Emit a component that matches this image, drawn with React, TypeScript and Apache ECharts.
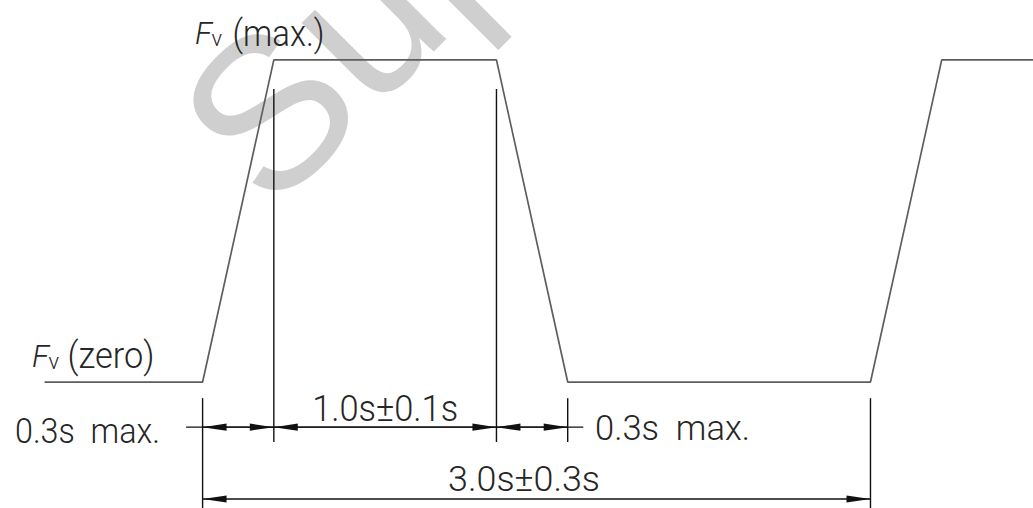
import React, { useEffect, useRef } from "react";
import * as echarts from "echarts";

// Waveform: time in seconds, force level (0 = Fv zero, 1 = Fv max)
const waveTime = [-0.71, 0, 0.32, 1.32, 1.64, 3.0, 3.32, 3.73];
const waveLevel = [0, 0, 1, 1, 0, 0, 1, 1];

// Extension (witness) lines: time, top level, bottom level
const extTime = [0, 0.32, 1.32, 1.64, 3.0];
const extTop = [-0.05, 0.91, 0.91, -0.05, -0.05];
const extBottom = [-0.391, -0.186, -0.186, -0.186, -0.391];

// Dimension lines: start time, end time, level
const dimStart = [0, 0.32, 1.32, 0];
const dimEnd = [0.32, 1.32, 1.64, 3.0];
const dimLevel = [-0.14, -0.14, -0.14, -0.363];

// Leader line through the first dimension row
const leaderTime = [-0.074, 1.71];
const leaderLevel = [-0.14, -0.14];

// Texts
const dimLabels = ["0.3s  max.", "1.0s±0.1s", "0.3s  max.", "3.0s±0.3s"];
const levelLabels = ["(max.)", "(zero)"];
const levelSymbol = "F";
const levelSub = "v";
const watermark = "Sup";

const X_MIN = -0.91;
const X_MAX = 3.73;
const Y_MIN = -0.391;
const Y_MAX = 1.186;

const FONT = "Roboto";
const TEXT_COLOR = "#262626";

let measureCtx: CanvasRenderingContext2D | null = null;
function measure(text: string, font: string): number {
  if (!measureCtx) measureCtx = document.createElement("canvas").getContext("2d");
  if (!measureCtx) return 1;
  measureCtx.font = font;
  return measureCtx.measureText(text).width || 1;
}

// layout of dimension labels relative to their dimension line
const DIM_LABEL_LAYOUT = [
  { anchor: "start", dx: -42.6, dy: 3, align: "right", width: 145 },
  { anchor: "mid", dx: 0, dy: -18.5, align: "center", width: 146 },
  { anchor: "end", dx: 27.3, dy: 1, align: "left", width: 155 },
  { anchor: "mid", dx: -12.5, dy: -20.5, align: "center", width: 152 },
];

// layout of level labels relative to waveform corners
const LEVEL_LABEL_LAYOUT = [
  { point: 2, dx: -78.8, dy: -26.5, parenDx: 37.5, width: 92 },
  { point: 0, dx: -12.5, dy: -26, parenDx: 35.5, width: 87 },
];

export default function App() {
  const ref = useRef<HTMLDivElement>(null);

  useEffect(() => {
    if (!ref.current) return;
    const chart = echarts.init(ref.current, null, { renderer: "svg" });

    const mainSize = 36;
    const mainFont = `300 ${mainSize}px ${FONT}`;
    const parenSize = 37;
    const parenFont = `300 ${parenSize}px ${FONT}`;

    const dimLabelData = DIM_LABEL_LAYOUT.map((l, i) => {
      const t =
        l.anchor === "start"
          ? dimStart[i]
          : l.anchor === "end"
          ? dimEnd[i]
          : (dimStart[i] + dimEnd[i]) / 2;
      return [t, dimLevel[i], i];
    });

    const levelLabelData = LEVEL_LABEL_LAYOUT.map((l, i) => [
      waveTime[l.point],
      waveLevel[l.point],
      i,
    ]);

    const stroke = "#111";

    chart.setOption({
      animation: false,
      backgroundColor: "#fff",
      grid: { left: 0, right: 0, top: 0, bottom: 0 },
      xAxis: { type: "value", min: X_MIN, max: X_MAX, show: false },
      yAxis: { type: "value", min: Y_MIN, max: Y_MAX, show: false },
      graphic: [
        {
          type: "text",
          x: 294,
          y: 238,
          rotation: (45 * Math.PI) / 180,
          z: 0,
          silent: true,
          style: {
            text: watermark,
            fontSize: 215,
            fontFamily: "Liberation Sans",
            fontWeight: "normal",
            fill: "#cfcfcf",
            align: "left",
            verticalAlign: "bottom",
          },
        },
      ],
      series: [
        {
          type: "line",
          z: 5,
          silent: true,
          showSymbol: false,
          symbol: "none",
          data: waveTime.map((t, i) => [t, waveLevel[i]]),
          lineStyle: { color: "#5e5e5e", width: 1.7 },
        },
        {
          type: "custom",
          z: 5,
          silent: true,
          data: extTime.map((t, i) => [t, extTop[i], extBottom[i]]),
          encode: { x: 0, y: [1, 2] },
          renderItem: (params: any, api: any) => {
            const p1 = api.coord([api.value(0), api.value(1)]);
            const p2 = api.coord([api.value(0), api.value(2)]);
            return {
              type: "line",
              shape: { x1: p1[0], y1: p1[1], x2: p2[0], y2: p2[1] },
              style: { stroke, lineWidth: 1.4 },
            };
          },
        },
        {
          type: "custom",
          z: 5,
          silent: true,
          data: [[leaderTime[0], leaderTime[1], leaderLevel[0]]],
          encode: { x: [0, 1], y: 2 },
          renderItem: (params: any, api: any) => {
            const a = api.coord([api.value(0), api.value(2)]);
            const b = api.coord([api.value(1), api.value(2)]);
            return {
              type: "line",
              shape: { x1: a[0], y1: a[1], x2: b[0], y2: b[1] },
              style: { stroke, lineWidth: 1.4 },
            };
          },
        },
        {
          type: "custom",
          z: 6,
          silent: true,
          data: dimStart.map((s, i) => [s, dimEnd[i], dimLevel[i]]),
          encode: { x: [0, 1], y: 2 },
          renderItem: (params: any, api: any) => {
            const a = api.coord([api.value(0), api.value(2)]);
            const b = api.coord([api.value(1), api.value(2)]);
            const L = 24;
            const H = 3.6;
            return {
              type: "group",
              children: [
                {
                  type: "line",
                  shape: { x1: a[0], y1: a[1], x2: b[0], y2: b[1] },
                  style: { stroke, lineWidth: 1.4 },
                },
                {
                  type: "polygon",
                  shape: {
                    points: [
                      [a[0], a[1]],
                      [a[0] + L, a[1] - H],
                      [a[0] + L, a[1] + H],
                    ],
                  },
                  style: { fill: stroke },
                },
                {
                  type: "polygon",
                  shape: {
                    points: [
                      [b[0], b[1]],
                      [b[0] - L, b[1] - H],
                      [b[0] - L, b[1] + H],
                    ],
                  },
                  style: { fill: stroke },
                },
              ],
            };
          },
        },
        {
          type: "custom",
          z: 7,
          silent: true,
          data: dimLabelData,
          encode: { x: 0, y: 1 },
          renderItem: (params: any, api: any) => {
            const i = api.value(2);
            const l = DIM_LABEL_LAYOUT[i];
            const p = api.coord([api.value(0), api.value(1)]);
            const text = dimLabels[i];
            const w = measure(text, mainFont);
            return {
              type: "text",
              x: p[0] + l.dx,
              y: p[1] + l.dy,
              scaleX: l.width / w,
              style: {
                x: 0,
                y: 0,
                text,
                fontSize: mainSize,
                fontFamily: FONT,
                fontWeight: 300,
                fill: TEXT_COLOR,
                align: l.align,
                verticalAlign: "middle",
              },
            };
          },
        },
        {
          type: "custom",
          z: 7,
          silent: true,
          data: levelLabelData,
          encode: { x: 0, y: 1 },
          renderItem: (params: any, api: any) => {
            const i = api.value(2);
            const l = LEVEL_LABEL_LAYOUT[i];
            const p = api.coord([api.value(0), api.value(1)]);
            const x0 = p[0] + l.dx;
            const yc = p[1] + l.dy;
            const text = levelLabels[i];
            const w = measure(text, parenFont);
            return {
              type: "group",
              children: [
                {
                  type: "text",
                  x: x0,
                  y: yc,
                  style: {
                    x: 0,
                    y: 0,
                    text: levelSymbol,
                    fontSize: 31,
                    fontFamily: FONT,
                    fontWeight: 300,
                    fontStyle: "italic",
                    fill: TEXT_COLOR,
                    align: "left",
                    verticalAlign: "middle",
                  },
                },
                {
                  type: "text",
                  x: x0 + 16.5,
                  y: yc + 5.5,
                  style: {
                    x: 0,
                    y: 0,
                    text: levelSub,
                    fontSize: 22,
                    fontFamily: FONT,
                    fontWeight: 300,
                    fill: TEXT_COLOR,
                    align: "left",
                    verticalAlign: "middle",
                  },
                },
                {
                  type: "text",
                  x: x0 + l.parenDx,
                  y: yc,
                  scaleX: l.width / w,
                  style: {
                    x: 0,
                    y: 0,
                    text,
                    fontSize: parenSize,
                    fontFamily: FONT,
                    fontWeight: 300,
                    fill: TEXT_COLOR,
                    align: "left",
                    verticalAlign: "middle",
                  },
                },
              ],
            };
          },
        },
      ],
    });

    return () => chart.dispose();
  }, []);

  return (
    <div
      ref={ref}
      style={{ position: "absolute", left: 0, top: 0, width: 1033, height: 508 }}
    />
  );
}
